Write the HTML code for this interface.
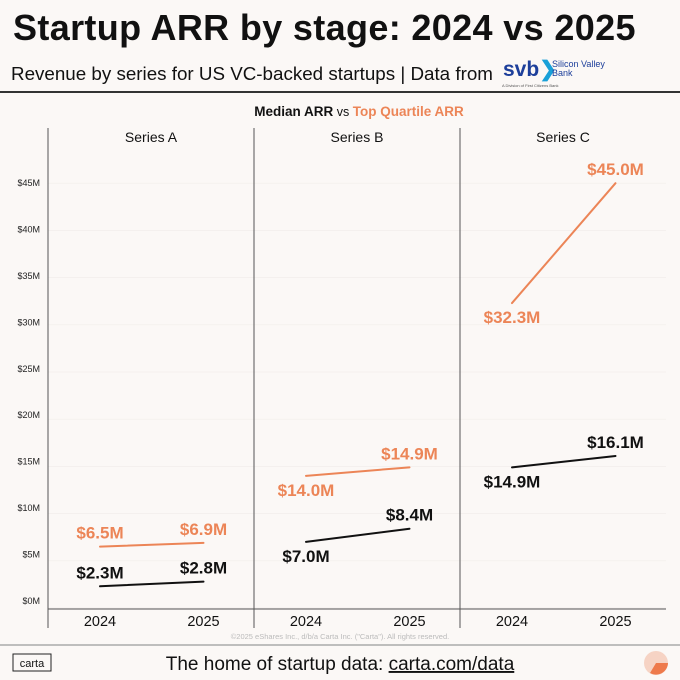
<!DOCTYPE html>
<html><head><meta charset="utf-8"><style>
body{margin:0;background:#fbf8f6;font-family:"Liberation Sans",sans-serif;}
#wrap{position:relative;width:680px;height:680px;overflow:hidden;background:#fbf8f6;}
.t{position:absolute;white-space:nowrap;}
</style></head><body>
<div id="wrap">
<div class="t" style="left:13px;top:7px;font-size:36px;font-weight:bold;color:#111;letter-spacing:0.35px">Startup ARR by stage: 2024 vs 2025</div>
<div class="t" style="left:11px;top:63px;font-size:18.8px;color:#111">Revenue by series for US VC-backed startups | Data from</div>
<div class="t" style="left:503px;top:57px;font-size:21px;font-weight:bold;color:#1d3f9b">svb<span style="color:#19a0d8">❯</span></div>
<div class="t" style="left:552px;top:60px;font-size:9px;line-height:9px;color:#1d3f9b">Silicon Valley<br>Bank</div>
<div class="t" style="left:502px;top:83px;font-size:4px;color:#555">A Division of First Citizens Bank</div>
<svg id="chart" width="680" height="680" style="position:absolute;left:0;top:0"></svg>
</div>
<script>
const categories=["Series A","Series B","Series C"];
const years=["2024","2025"];
const median2024=[2.3,7.0,14.9];
const median2025=[2.8,8.4,16.1];
const top2024=[6.5,14.0,32.3];
const top2025=[6.9,14.9,45.0];
const ticks=[0,5,10,15,20,25,30,35,40,45];
const NS="http://www.w3.org/2000/svg";
const svg=document.getElementById('chart');
function el(tag,attrs,parent){const e=document.createElementNS(NS,tag);for(const k in attrs)e.setAttribute(k,attrs[k]);(parent||svg).appendChild(e);return e;}
const left=48,right=666,panelW=(right-left)/3;
function yData(v){return 608-v*9.44;}
function yTick(v){return 601-v*9.29;}
function xPt(i,j){return left+panelW*i+52+j*103.5;}
const orange="#ec8557",dark="#111";
let e;
e=el('line',{x1:0,x2:680,y1:92,y2:92,stroke:'#333','stroke-width':2});


e=el('line',{x1:0,x2:680,y1:645,y2:645,stroke:'#aaa','stroke-width':1.5});


e=el('text',{x:359,y:116,'text-anchor':'middle','font-size':13.5,'font-family':'Liberation Sans, sans-serif',fill:dark});


e.innerHTML='<tspan font-weight="bold">Median ARR</tspan><tspan font-size="12.5"> vs </tspan><tspan font-weight="bold" fill="'+orange+'">Top Quartile ARR</tspan>';
ticks.forEach(v=>{
 const g=el('line',{x1:left,x2:right,y1:yData(v),y2:yData(v),stroke:'#f2eeeb','stroke-width':0.7});
 
 
 const t=el('text',{x:40,y:yTick(v)+3,'text-anchor':'end','font-size':9,'font-family':'Liberation Sans, sans-serif',fill:'#222'});
 
 
 t.textContent='$'+v+'M';
});
e=el('line',{x1:left,x2:right,y1:609,y2:609,stroke:'#555','stroke-width':1});


categories.forEach((c,i)=>{
 const x0=left+panelW*i;
 const d=el('line',{x1:x0,x2:x0,y1:128,y2:628,stroke:'#555','stroke-width':1});
 
 
 const h=el('text',{x:x0+panelW/2,y:142,'text-anchor':'middle','font-size':14,'font-family':'Liberation Sans, sans-serif',fill:'#111'});
 
 
 h.textContent=c;
 years.forEach((yr,j)=>{
  const t=el('text',{x:xPt(i,j),y:626,'text-anchor':'middle','font-size':14.5,'font-family':'Liberation Sans, sans-serif',fill:'#111'});
  
  
  t.textContent=yr;
 });
 [[median2024,median2025,dark,'median'],[top2024,top2025,orange,'top-quartile']].forEach(([a,b,col,nm])=>{
  const l=el('line',{x1:xPt(i,0),y1:yData(a[i]),x2:xPt(i,1),y2:yData(b[i]),stroke:col,'stroke-width':2,'stroke-linecap':'round'});
  
  
  [[a,0],[b,1]].forEach(([arr,j])=>{
   const v=arr[i];
   const below=(i>0&&j===0);
   const ty=below?yData(v)+20:yData(v)-8;
   const t=el('text',{x:xPt(i,j),y:ty,'text-anchor':'middle','font-size':17,'font-weight':'bold','font-family':'Liberation Sans, sans-serif',fill:col});
   
   
   t.textContent='$'+v.toFixed(1)+'M';
  });
 });
});
e=el('text',{x:340,y:639,'text-anchor':'middle','font-size':7.5,'font-family':'Liberation Sans, sans-serif',fill:'#bbb'});


e.textContent='©2025 eShares Inc., d/b/a Carta Inc. ("Carta"). All rights reserved.';
e=el('rect',{x:13,y:654,width:38,height:17,fill:'none',stroke:'#222','stroke-width':1});


e=el('text',{x:32,y:667,'text-anchor':'middle','font-size':11,'font-family':'Liberation Sans, sans-serif',fill:'#111'});


e.textContent='carta';
e=el('text',{x:340,y:670,'text-anchor':'middle','font-size':19,'font-family':'Liberation Sans, sans-serif',fill:'#111'});


e.innerHTML='The home of startup data: <tspan text-decoration="underline">carta.com/data</tspan>';
e=el('circle',{cx:656,cy:663,r:12,fill:'#f6d3c4'});


e=el('path',{d:'M656 663 L668 663 A12 12 0 0 1 650 673 Z',fill:'#ee7a4c'});


</script>
</body></html>
